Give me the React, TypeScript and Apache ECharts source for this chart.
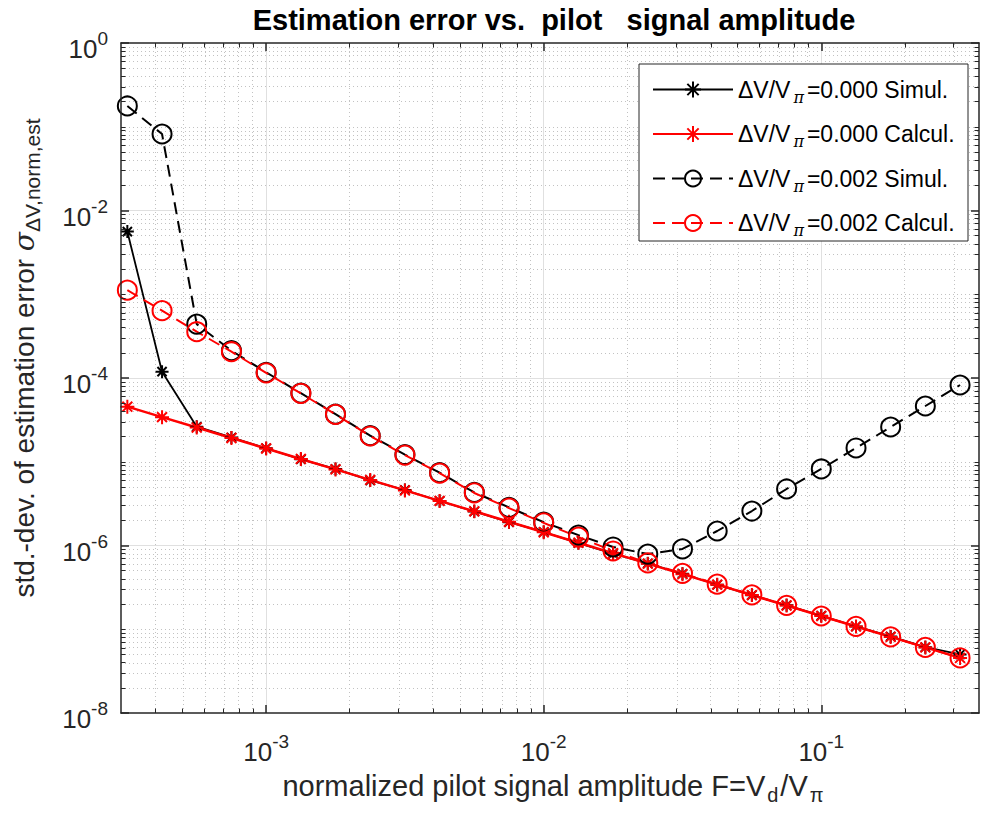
import React, { useEffect, useRef } from 'react';
import * as echarts from 'echarts';

// normalized pilot signal amplitude F (x values)
const F = [
  3.162e-4, 4.217e-4, 5.623e-4, 7.499e-4, 1.0e-3, 1.334e-3, 1.778e-3, 2.371e-3,
  3.162e-3, 4.217e-3, 5.623e-3, 7.499e-3, 1.0e-2, 1.334e-2, 1.778e-2, 2.371e-2,
  3.162e-2, 4.217e-2, 5.623e-2, 7.499e-2, 0.1, 0.1334, 0.1778, 0.2371, 0.3162,
];

// ΔV/Vπ = 0.000, simulated
const simul000 = [
  5.6e-3, 1.19e-4, 2.62e-5, 1.95e-5, 1.45e-5, 1.07e-5, 8.2e-6, 6.0e-6,
  4.6e-6, 3.4e-6, 2.55e-6, 1.9e-6, 1.45e-6, 1.07e-6, 8.0e-7, 6.1e-7,
  4.6e-7, 3.4e-7, 2.55e-7, 1.93e-7, 1.45e-7, 1.08e-7, 8.2e-8, 6.1e-8, 5.0e-8,
];

// ΔV/Vπ = 0.000, calculated
const calc000 = [
  4.55e-5, 3.41e-5, 2.56e-5, 1.92e-5, 1.44e-5, 1.08e-5, 8.1e-6, 6.07e-6,
  4.55e-6, 3.41e-6, 2.56e-6, 1.92e-6, 1.44e-6, 1.08e-6, 8.1e-7, 6.07e-7,
  4.55e-7, 3.41e-7, 2.56e-7, 1.92e-7, 1.44e-7, 1.08e-7, 8.1e-8, 6.07e-8, 4.55e-8,
];

// ΔV/Vπ = 0.002, simulated
const simul002 = [
  0.177, 0.0819, 4.4e-4, 2.12e-4, 1.17e-4, 6.6e-5, 3.7e-5, 2.05e-5,
  1.22e-5, 7.4e-6, 4.3e-6, 2.85e-6, 1.9e-6, 1.33e-6, 9.6e-7, 7.9e-7,
  9.1e-7, 1.49e-6, 2.58e-6, 4.73e-6, 8.2e-6, 1.46e-5, 2.6e-5, 4.63e-5, 8.25e-5,
];

// ΔV/Vπ = 0.002, calculated
const calc002 = [
  1.12e-3, 6.37e-4, 3.57e-4, 2.06e-4, 1.15e-4, 6.56e-5, 3.68e-5, 2.03e-5,
  1.2e-5, 7.3e-6, 4.24e-6, 2.8e-6, 1.86e-6, 1.26e-6, 8.6e-7, 6.2e-7,
  4.65e-7, 3.45e-7, 2.57e-7, 1.93e-7, 1.44e-7, 1.08e-7, 8.1e-8, 6.07e-8, 4.55e-8,
];

const seriesNames = [
  'ΔV/Vπ=0.000 Simul.',
  'ΔV/Vπ=0.000 Calcul.',
  'ΔV/Vπ=0.002 Simul.',
  'ΔV/Vπ=0.002 Calcul.',
];

// tick decades (log10)
const xMajorTicks = [-3, -2, -1];
const yMajorTicks = [-8, -6, -4, -2, 0];

const titleText = 'Estimation error vs.  pilot   signal amplitude';
const xNameText = 'normalized pilot signal amplitude F=V';
const yNameText = 'std.-dev. of estimation error ';

const X_MIN = Math.log10(3e-4);
const X_MAX = Math.log10(0.37);
const Y_MIN = -8;
const Y_MAX = 0;

const FONT = '"Liberation Sans", Arial, Helvetica, sans-serif';
const AX = '#262626';

function minorX(): number[] {
  const out: number[] = [];
  for (let k = -4; k <= 0; k++) {
    for (let m = 2; m <= 9; m++) {
      const v = k + Math.log10(m);
      if (v > X_MIN && v < X_MAX) out.push(v);
    }
  }
  return out;
}
function minorY(): number[] {
  const out: number[] = [];
  for (let k = -8; k < 0; k++) {
    for (let m = 1; m <= 9; m++) {
      if (m === 1 && k % 2 === 0) continue;
      out.push(k + Math.log10(m));
    }
  }
  return out;
}

const ASTERISK =
  'path://M0,-10L0,10M-10,0L10,0M-7.07,-7.07L7.07,7.07M-7.07,7.07L7.07,-7.07';

const toPts = (ys: number[]) => ys.map((y, i) => [Math.log10(F[i]), Math.log10(y)]);

const tickRich = {
  b: { fontSize: 26, color: AX, fontFamily: FONT, padding: [12, 0, 0, 0] },
  s: { fontSize: 19, color: AX, fontFamily: FONT, padding: [0, 0, 9, 0] },
};
const tickFmt = (v: number) => `{b|10}{s|${Math.round(v)}}`;

export default function App() {
  const ref = useRef<HTMLDivElement>(null);
  useEffect(() => {
    document.body.style.margin = '0';
    if (!ref.current) return;
    const chart = echarts.init(ref.current, undefined, { renderer: 'svg' });
    const xm = minorX();
    const ym = minorY();
    const minorStyle = { color: '#c2c2c2', width: 1, type: [1, 3] as any };
    const majorStyle = { color: '#e0e0e0', width: 1, type: 'solid' as any };
    const gridLines = [
      ...xm.map((v) => ({ xAxis: v, lineStyle: minorStyle })),
      ...ym.map((v) => ({ yAxis: v, lineStyle: minorStyle })),
      ...xMajorTicks.map((v) => ({ xAxis: v, lineStyle: majorStyle })),
      ...yMajorTicks.filter((v) => v > Y_MIN && v < Y_MAX).map((v) => ({ yAxis: v, lineStyle: majorStyle })),
    ];

    const baseAxis = (extra: any) => ({
      type: 'value',
      z: 3,
      splitLine: { show: false },
      axisLine: { show: false, onZero: false, lineStyle: { color: AX, width: 1.5 } },
      axisLabel: { show: false },
      ...extra,
    });

    const xBase = { min: X_MIN, max: X_MAX };
    const yBase = { min: Y_MIN, max: Y_MAX };

    const option: any = {
      animation: false,
      backgroundColor: '#ffffff',
      title: {
        text: titleText,
        left: 554,
        top: 5,
        textAlign: 'center',
        padding: 0,
        textStyle: { fontSize: 29, fontWeight: 'bold', color: '#000', fontFamily: FONT },
      },
      grid: { left: 121, right: 2, top: 43, bottom: 103, containLabel: false },
      xAxis: [
        baseAxis({
          ...xBase,
          position: 'bottom',
          axisLine: { show: true, onZero: false, lineStyle: { color: AX, width: 1.5 } },
          axisTick: { show: true, inside: true, length: 8, customValues: xMajorTicks, lineStyle: { color: AX, width: 1.5 } },
          axisLabel: { show: true, customValues: xMajorTicks, formatter: tickFmt, rich: tickRich, margin: 14 },
          name: `{n|${xNameText}}{s|d}{n|/V}{s|π}`,
          nameLocation: 'middle',
          nameGap: 54,
          nameTextStyle: {
            padding: [0, 0, 0, 8],
            rich: {
              n: { fontSize: 29, color: AX, fontFamily: FONT },
              s: { fontSize: 20, color: AX, fontFamily: FONT, padding: [18, 2, 0, 2] },
            },
          },
        }),
        baseAxis({
          ...xBase,
          position: 'bottom',
          axisTick: { show: true, inside: true, length: 4.5, customValues: xm, lineStyle: { color: AX, width: 1 } },
        }),
        baseAxis({
          ...xBase,
          position: 'top',
          axisLine: { show: true, onZero: false, lineStyle: { color: AX, width: 1.5 } },
          axisTick: { show: true, inside: true, length: 8, customValues: xMajorTicks, lineStyle: { color: AX, width: 1.5 } },
        }),
        baseAxis({
          ...xBase,
          position: 'top',
          axisTick: { show: true, inside: true, length: 4.5, customValues: xm, lineStyle: { color: AX, width: 1 } },
        }),
      ],
      yAxis: [
        baseAxis({
          ...yBase,
          position: 'left',
          axisLine: { show: true, onZero: false, lineStyle: { color: AX, width: 1.5 } },
          axisTick: { show: true, inside: true, length: 8, customValues: yMajorTicks, lineStyle: { color: AX, width: 1.5 } },
          axisLabel: { show: true, customValues: yMajorTicks, formatter: tickFmt, rich: tickRich, margin: 13 },
          name: `{n|${yNameText}}{g|σ}{s|ΔV,norm,est}`,
          nameLocation: 'middle',
          nameRotate: 90,
          nameGap: 78,
          nameTextStyle: {
            padding: [0, 0, 0, 40],
            rich: {
              n: { fontSize: 28, color: AX, fontFamily: FONT },
              g: { fontSize: 28, color: AX, fontFamily: '"DejaVu Serif", serif', fontStyle: 'italic' },
              s: { fontSize: 21, color: AX, fontFamily: FONT, padding: [16, 0, 0, 0] },
            },
          },
        }),
        baseAxis({
          ...yBase,
          position: 'left',
          axisTick: { show: true, inside: true, length: 4.5, customValues: ym, lineStyle: { color: AX, width: 1 } },
        }),
        baseAxis({
          ...yBase,
          position: 'right',
          axisLine: { show: true, onZero: false, lineStyle: { color: AX, width: 1.5 } },
          axisTick: { show: true, inside: true, length: 8, customValues: yMajorTicks, lineStyle: { color: AX, width: 1.5 } },
        }),
        baseAxis({
          ...yBase,
          position: 'right',
          axisTick: { show: true, inside: true, length: 4.5, customValues: ym, lineStyle: { color: AX, width: 1 } },
        }),
      ],
      legend: {
        data: seriesNames,
        orient: 'vertical',
        left: 647,
        top: 73,
        z: 11,
        itemWidth: 80,
        itemHeight: 20,
        itemGap: 17.5,
        padding: 5,
        selectedMode: false,
        formatter: (name: string) => {
          const [a, b] = name.split('π');
          return `{n|${a}}{s|π}{n|${b}}`;
        },
        textStyle: {
          rich: {
            n: { fontSize: 23, color: '#000', fontFamily: FONT },
            s: { fontSize: 16, color: '#000', fontFamily: '"DejaVu Serif", serif', fontStyle: 'italic', padding: [15, 3, 0, 3] },
          },
        },
      },
      graphic: [
        {
          type: 'rect',
          z: 10,
          silent: true,
          shape: { x: 639, y: 64, width: 329, height: 177 },
          style: { fill: '#ffffff', stroke: AX, lineWidth: 1 },
        },
      ],
      series: [
        {
          name: 'grid',
          type: 'line',
          data: [],
          silent: true,
          markLine: {
            z: 1,
            silent: true,
            symbol: ['none', 'none'],
            label: { show: false },
            emphasis: { disabled: true },
            data: gridLines,
          },
        },
        {
          name: seriesNames[0],
          type: 'line',
          data: toPts(simul000),
          symbol: ASTERISK,
          symbolSize: 13,
          lineStyle: { color: '#000', width: 1.8, type: 'solid' },
          itemStyle: { color: 'rgba(0,0,0,0)', borderColor: '#000', borderWidth: 2 },
          z: 2,
        },
        {
          name: seriesNames[1],
          type: 'line',
          data: toPts(calc000),
          symbol: ASTERISK,
          symbolSize: 14,
          lineStyle: { color: '#ff0000', width: 2.5, type: 'solid' },
          itemStyle: { color: 'rgba(0,0,0,0)', borderColor: '#ff0000', borderWidth: 2 },
          z: 2,
        },
        {
          name: seriesNames[2],
          type: 'line',
          data: toPts(simul002),
          symbol: 'circle',
          symbolSize: 19,
          lineStyle: { color: '#000', width: 2, type: [12, 7] },
          itemStyle: { color: 'rgba(0,0,0,0)', borderColor: '#000', borderWidth: 2 },
          z: 2,
        },
        {
          name: seriesNames[3],
          type: 'line',
          data: toPts(calc002),
          symbol: 'circle',
          symbolSize: 19,
          lineStyle: { color: '#ff0000', width: 2, type: [12, 7] },
          itemStyle: { color: 'rgba(0,0,0,0)', borderColor: '#ff0000', borderWidth: 2 },
          z: 2,
        },
      ],
    };
    chart.setOption(option);
    return () => chart.dispose();
  }, []);
  return (
    <div
      ref={ref}
      style={{ position: 'fixed', left: 0, top: 0, width: 981, height: 816, background: '#fff' }}
    />
  );
}
